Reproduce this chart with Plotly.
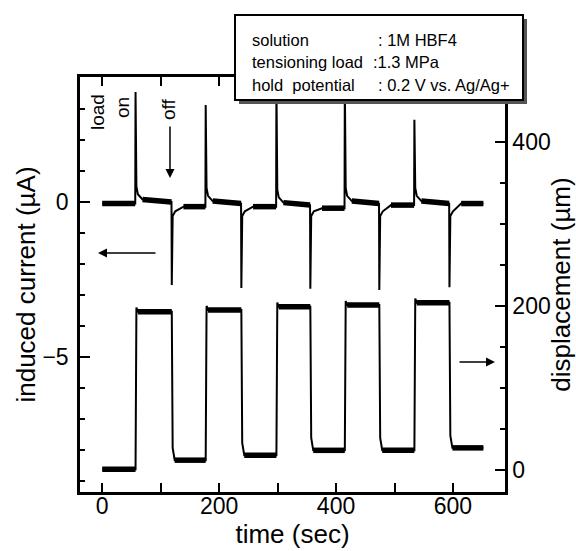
import plotly.graph_objects as go

# ---------------- data ----------------
t_start = 0
t_end = 652
on_times = [57, 177, 298, 415, 534]          # load on (sec)
off_times = [119, 238, 356, 474, 594]        # load off (sec)

# induced current (uA)
cur_rest = -0.05
on_peak = [3.55, 3.13, 3.8, 3.8, 2.65]
off_peak = [-2.68, -2.77, -2.80, -2.84, -2.75]
cur_after_on = [0.0, -0.05, -0.1, -0.05, -0.05]
cur_after_off = [-0.15, -0.15, -0.2, -0.1, -0.05]
on_decay_dt = [1.5, 4, 12]
on_decay_val = [0.5, 0.25, 0.08]
off_decay_dt = [1.5, 6, 20]
off_decay_val = [-0.45, -0.3, -0.2]

# displacement (um)
disp_low = [1, 12, 18, 24, 24, 27]
disp_high = [193, 195, 199, 201, 204]

x_ticks = [0, 100, 200, 300, 400, 500, 600]
x_ticktext = ["0", "", "200", "", "400", "", "600"]

# ---------------- build traces ----------------
ct, cv = [t_start], [cur_rest]
pt, pv = [t_start], [cur_rest]          # plateau segments (thick noisy band)
prev_level = cur_rest
for i, (ton, toff) in enumerate(zip(on_times, off_times)):
    ct += [ton - 0.5, ton]
    cv += [prev_level, on_peak[i]]
    pt += [ton - 0.5, None]
    pv += [prev_level, None]
    for dt, dv in zip(on_decay_dt, on_decay_val):
        ct.append(ton + dt)
        cv.append(cur_after_on[i] + dv)
    ct += [toff - 0.5, toff]
    cv += [cur_after_on[i], off_peak[i]]
    pt += [ton + on_decay_dt[-1], toff - 0.5, None]
    pv += [cur_after_on[i] + on_decay_val[-1], cur_after_on[i], None]
    for dt, dv in zip(off_decay_dt, off_decay_val):
        ct.append(toff + dt)
        cv.append(dv if dt < off_decay_dt[-1] else cur_after_off[i])
    prev_level = cur_after_off[i]
    pt += [toff + off_decay_dt[-1]]
    pv += [cur_after_off[i]]
ct.append(t_end)
cv.append(prev_level)
pt.append(t_end)
pv.append(prev_level)

dt_, dv_ = [t_start], [disp_low[0]]
qt, qv = [t_start], [disp_low[0]]
for i, (ton, toff) in enumerate(zip(on_times, off_times)):
    dt_ += [ton, ton + 1.5, ton + 4, toff, toff + 1.5, toff + 5]
    dv_ += [disp_low[i], disp_high[i] + 5, disp_high[i], disp_high[i],
            disp_low[i + 1] + 15, disp_low[i + 1]]
    qt += [ton, None, ton + 4, toff, None, toff + 5]
    qv += [disp_low[i], None, disp_high[i], disp_high[i], None, disp_low[i + 1]]
dt_.append(t_end)
dv_.append(disp_low[-1])
qt.append(t_end)
qv.append(disp_low[-1])

fig = go.Figure()
fig.add_trace(go.Scatter(x=ct, y=cv, mode="lines", line=dict(color="black", width=2),
                         yaxis="y", showlegend=False))
fig.add_trace(go.Scatter(x=pt, y=pv, mode="lines", line=dict(color="black", width=5.5),
                         yaxis="y", showlegend=False, connectgaps=False))
fig.add_trace(go.Scatter(x=dt_, y=dv_, mode="lines", line=dict(color="black", width=2),
                         yaxis="y2", showlegend=False))
fig.add_trace(go.Scatter(x=qt, y=qv, mode="lines", line=dict(color="black", width=5.5),
                         yaxis="y2", showlegend=False, connectgaps=False))

# ---------------- layout ----------------
W, H = 576, 551
L, R, T, B = 80, 71, 77, 59
FONT = "Liberation Sans, Arial, Helvetica, sans-serif"


def px(x, y):
    return (x - L) / (W - L - R), (H - B - y) / (H - T - B)


fig.update_layout(
    width=W, height=H,
    margin=dict(l=L, r=R, t=T, b=B, pad=0, autoexpand=False),
    paper_bgcolor="white", plot_bgcolor="white",
    font=dict(family=FONT, color="black"),
    xaxis=dict(range=[-38, 689], tickvals=x_ticks, ticktext=x_ticktext,
               ticks="inside", ticklen=9, tickwidth=2, tickcolor="black",
               showline=True, linewidth=2.5, linecolor="black", mirror="ticks",
               showgrid=False, zeroline=False, automargin=False,
               tickfont=dict(size=23), ticklabelstandoff=-8,
               title=dict(text="time (sec)", font=dict(size=26), standoff=6)),
    yaxis=dict(range=[-9.35, 4.03], tick0=0, dtick=5,
               ticks="inside", ticklen=10, tickwidth=2, tickcolor="black",
               minor=dict(dtick=1, ticks="inside", ticklen=5, tickwidth=1.5, tickcolor="black"),
               showline=True, linewidth=2.5, linecolor="black",
               showgrid=False, zeroline=False, automargin=False,
               tickfont=dict(size=23), ticklabelstandoff=4,
               title=dict(text="induced current (\u00b5A)", font=dict(size=26), standoff=0)),
    yaxis2=dict(range=[-26.8, 479], tick0=0, dtick=200, overlaying="y", side="right",
                ticks="inside", ticklen=10, tickwidth=2, tickcolor="black",
                minor=dict(dtick=50, ticks="inside", ticklen=5, tickwidth=1.5, tickcolor="black"),
                showline=True, linewidth=2.5, linecolor="black",
                showgrid=False, zeroline=False, automargin=False,
                tickfont=dict(size=23), ticklabelstandoff=0,
                title=dict(text="displacement (\u00b5m)", font=dict(size=26), standoff=0)),
)

# info box with shadow
x0, y0 = px(235, 100)
x1, y1 = px(523, 15)
sx0, sy0 = px(239, 104)
sx1, sy1 = px(527, 19)
fig.add_shape(type="rect", xref="paper", yref="paper", x0=sx0, y0=sy0, x1=sx1, y1=sy1,
              fillcolor="#555555", line=dict(width=0), layer="above")
fig.add_shape(type="rect", xref="paper", yref="paper", x0=x0, y0=y0, x1=x1, y1=y1,
              fillcolor="white", line=dict(color="black", width=2), layer="above")

box_left = ["solution", "tensioning load", "hold  potential"]
box_right = [": 1M HBF4", ":1.3 MPa", ": 0.2 V vs. Ag/Ag+"]
box_right_x = [376, 371, 376]
box_rows_y = [40, 62, 85]
for lab, val, vx, ry in zip(box_left, box_right, box_right_x, box_rows_y):
    ax_, ay_ = px(250, ry)
    fig.add_annotation(xref="paper", yref="paper", x=ax_, y=ay_, text=lab.replace("  ", "\u00a0 "),
                       showarrow=False, xanchor="left", yanchor="middle",
                       font=dict(size=16.5, family=FONT))
    bx_, by_ = px(vx, ry)
    fig.add_annotation(xref="paper", yref="paper", x=bx_, y=by_, text=val,
                       showarrow=False, xanchor="left", yanchor="middle",
                       font=dict(size=16.5, family=FONT))

# rotated labels
for txt, (lx, ly) in [("load", (97, 112)), ("on", (123, 108)), ("off", (168, 109))]:
    ax_, ay_ = px(lx, ly)
    fig.add_annotation(xref="paper", yref="paper", x=ax_, y=ay_, text=txt, textangle=-90,
                       showarrow=False, xanchor="center", yanchor="middle",
                       font=dict(size=19, family=FONT))

# arrows: (tip_x, tip_y, tail dx, tail dy) in pixels
for tx, ty, dx, dy in [(170, 178, 0, -53), (98, 253, 59, 0), (495, 362, -37, 0)]:
    ax_, ay_ = px(tx, ty)
    fig.add_annotation(xref="paper", yref="paper", x=ax_, y=ay_, text="",
                       showarrow=True, ax=dx, ay=dy, arrowhead=2, arrowsize=1.2,
                       arrowwidth=1.5, arrowcolor="black", standoff=0)

fig.write_html("out.html")
